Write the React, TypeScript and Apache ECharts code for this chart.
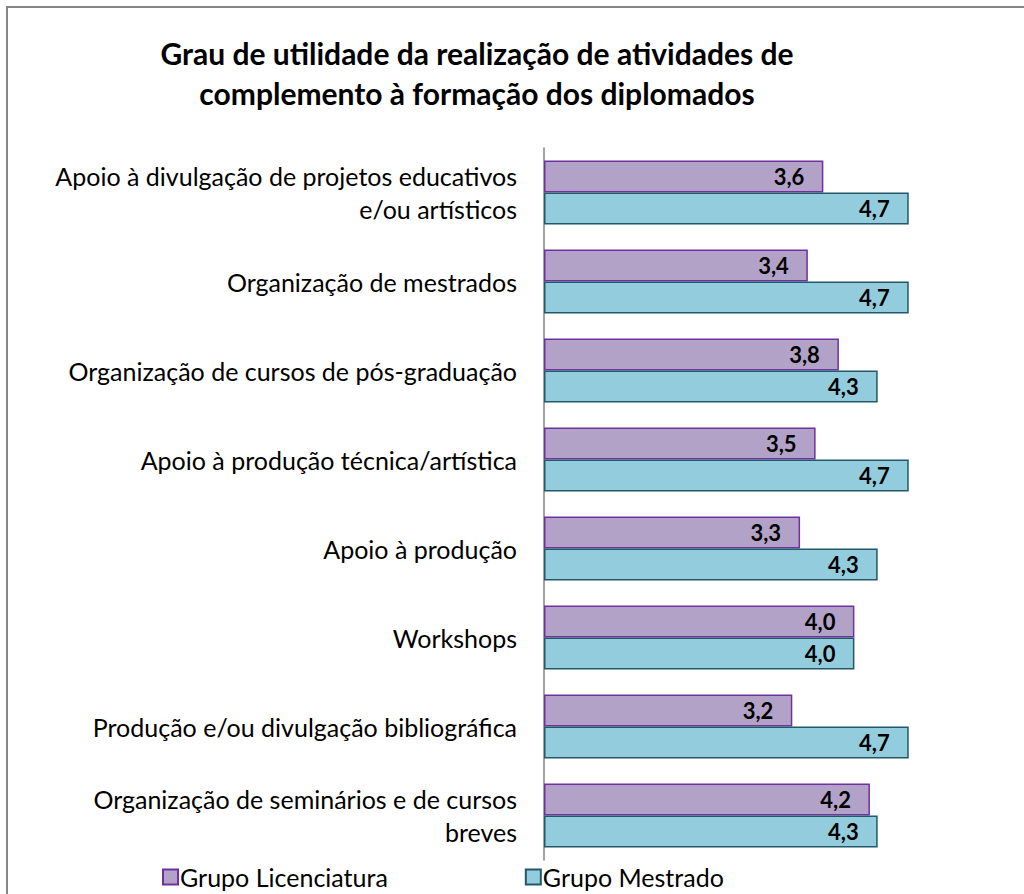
import React, { useEffect, useRef } from "react";
import * as echarts from "echarts";

const titleLines = [
  "Grau de utilidade da realização de atividades de",
  "complemento à formação dos diplomados",
];
const categories = [
  "Apoio à divulgação de projetos educativos\ne/ou artísticos",
  "Organização de mestrados",
  "Organização de cursos de pós-graduação",
  "Apoio à produção técnica/artística",
  "Apoio à produção",
  "Workshops",
  "Produção e/ou divulgação bibliográfica",
  "Organização de seminários e de cursos\nbreves",
];
const seriesNames = ["Grupo Licenciatura", "Grupo Mestrado"];
const licenciatura = [3.6, 3.4, 3.8, 3.5, 3.3, 4.0, 3.2, 4.2];
const mestrado = [4.7, 4.7, 4.3, 4.7, 4.3, 4.0, 4.7, 4.3];

const FONT = "Lato, 'Noto Sans', sans-serif";

export default function App() {
  const ref = useRef<HTMLDivElement>(null);
  useEffect(() => {
    if (!ref.current) return;
    const chart = echarts.init(ref.current, undefined, { renderer: "svg" });
    const fmt = (p: any) => Number(p.value).toFixed(1).replace(".", ",");
    const label = {
      show: true,
      position: "insideRight",
      distance: 19,
      formatter: fmt,
      color: "#000",
      fontWeight: "bold",
      fontSize: 22,
      fontFamily: FONT,
    };
    chart.setOption({
      animation: false,
      backgroundColor: "#fff",
      title: {
        text: titleLines.join("\n"),
        left: 472,
        textAlign: "center",
        top: 28,
        textStyle: {
          fontFamily: FONT,
          fontWeight: "bold",
          fontSize: 30,
          lineHeight: 40,
          color: "#000",
        },
      },
      graphic: [
        {
          type: "rect",
          shape: { x: 7, y: 7, width: 1040, height: 920 },
          style: { fill: "none", stroke: "#868686", lineWidth: 2 },
          silent: true,
        },
      ],
      legend: {
        left: 162,
        top: 864,
        padding: 0,
        icon: "rect",
        itemWidth: 15,
        itemHeight: 15,
        itemGap: 137,
        textStyle: {
          fontFamily: FONT,
          fontSize: 25,
          lineHeight: 26,
          color: "#000",
          padding: [0, 0, 0, -3],
        },
        data: seriesNames,
      },
      grid: { left: 544, top: 148, width: 388, height: 712, containLabel: false },
      xAxis: {
        type: "value",
        min: 0,
        max: 5,
        show: false,
      },
      yAxis: {
        type: "category",
        inverse: true,
        data: categories,
        axisLine: { lineStyle: { color: "#868686", width: 1.5 } },
        axisTick: { length: 6, lineStyle: { color: "#868686", width: 1.5 } },
        axisLabel: {
          margin: 27,
          fontFamily: FONT,
          fontSize: 25,
          lineHeight: 33,
          color: "#000",
          align: "right",
        },
      },
      series: [
        {
          name: seriesNames[0],
          type: "bar",
          data: licenciatura,
          barWidth: 32,
          barGap: "0%",
          itemStyle: { color: "#B3A2C7", borderColor: "#7030A0", borderWidth: 1.5 },
          label,
        },
        {
          name: seriesNames[1],
          type: "bar",
          data: mestrado,
          barWidth: 32,
          barGap: "0%",
          itemStyle: { color: "#93CDDD", borderColor: "#215968", borderWidth: 1.5 },
          label,
        },
      ],
    });
    return () => chart.dispose();
  }, []);
  return (
    <div
      ref={ref}
      style={{ position: "fixed", left: 0, top: 0, width: 1024, height: 894 }}
    />
  );
}
